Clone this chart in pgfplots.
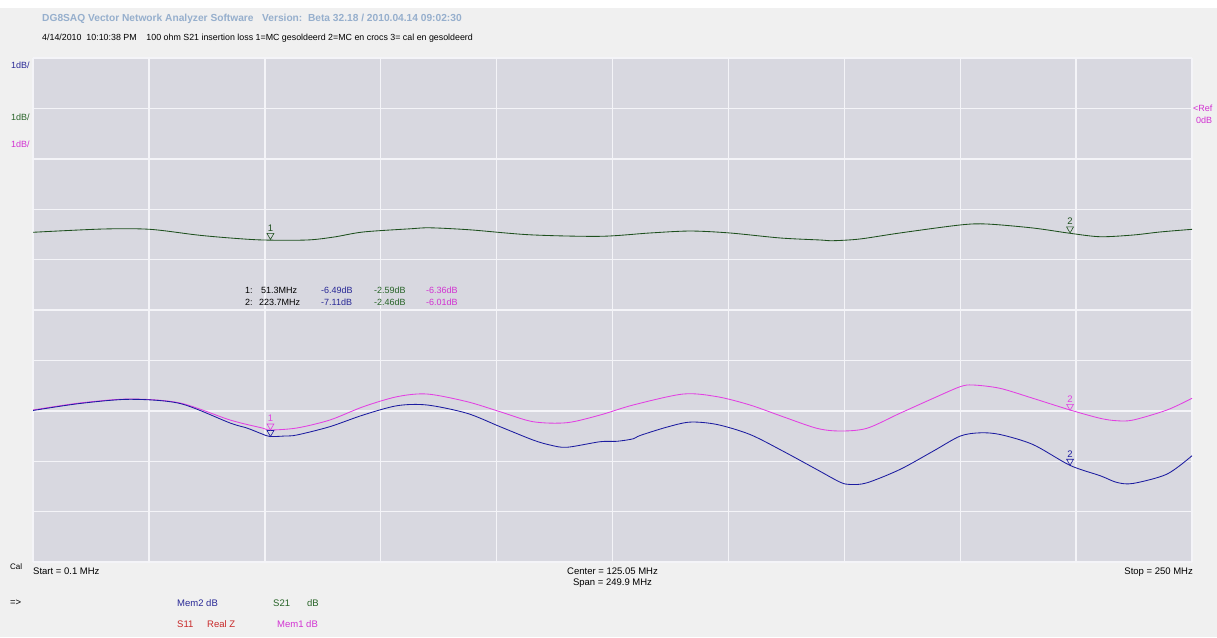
\documentclass[border=0pt]{standalone}
\usepackage{pgfplots}
\pgfplotsset{compat=1.18}
\usepackage{fontspec}
\setmainfont{Liberation Sans}
\definecolor{winbg}{RGB}{240,240,240}
\definecolor{plotbg}{RGB}{216,216,224}
\definecolor{gridc}{RGB}{244,244,248}
\definecolor{trblue}{RGB}{28,28,160}
\definecolor{trpink}{RGB}{226,64,226}
\definecolor{trgreen}{RGB}{30,80,30}
\definecolor{txtblue}{RGB}{40,40,150}
\definecolor{txtgreen}{RGB}{40,100,40}
\definecolor{txtpink}{RGB}{210,50,210}
\definecolor{txtred}{RGB}{200,40,40}
\definecolor{titleblue}{RGB}{150,175,205}
\pgfplotsset{
  vnamark/.style={only marks, mark=triangle, mark size=4pt,
    mark options={#1, fill=none, line width=0.6pt, yshift=4pt, rotate=180}},
  vnanum/.style={draw=none, mark=none, point meta=explicit symbolic, nodes near coords,
    nodes near coords style={anchor=south, yshift=8pt, inner sep=0pt, text=#1,
      font=\fontsize{9.5}{9.5}\selectfont}}
}
\begin{document}
\begin{tikzpicture}
\path[use as bounding box, fill=winbg] (0,0) rectangle (1217pt,-637pt);
\fill[white] (0,0) rectangle (1217pt,-8pt);
\begin{axis}[at={(33pt,-58pt)}, anchor=north west, width=1159pt, height=504pt, scale only axis,
  xmin=0.1, xmax=250, ymin=-9, ymax=1,
  xtick={0.1,25.09,50.08,75.07,100.06,125.05,150.04,175.03,200.02,225.01,250},
  ytick={-9,-8,...,1},
  grid=major, major grid style={gridc, line width=1.4pt},
  xticklabels={}, yticklabels={}, major tick length=0pt,
  axis line style={draw=none},
  axis background/.style={fill=plotbg},
  clip=true]
% S21 (green)
\addplot[trgreen, line width=0.85pt, smooth, mark=none] coordinates {
(0.1,-2.458) (15.2,-2.393) (25.3,-2.399) (35.5,-2.512) (42.6,-2.571) (49.7,-2.611)
(59.2,-2.611) (65.0,-2.552) (71.3,-2.452) (81.4,-2.389) (85.7,-2.369) (94.3,-2.409)
(107.3,-2.508) (122.4,-2.538) (133.1,-2.472) (141.8,-2.433) (150.4,-2.472) (161.2,-2.571)
(169.8,-2.611) (172.6,-2.625) (178.4,-2.591) (187.0,-2.472) (200.0,-2.313) (205.8,-2.294)
(215.7,-2.373) (223.7,-2.478) (230.2,-2.546) (237.3,-2.512) (243.1,-2.452) (250,-2.399)};
% Mem1 (pink)
\addplot[trpink, line width=0.85pt, smooth, mark=none] coordinates {
(0.1,-5.984) (10.2,-5.845) (21.0,-5.766) (31.8,-5.845) (42.6,-6.183) (49.5,-6.341)
(51.2,-6.381) (57.0,-6.341) (64.1,-6.183) (71.3,-5.919) (78.6,-5.720) (85.1,-5.667)
(93.7,-5.819) (100.8,-6.018) (107.9,-6.216) (115.2,-6.236) (122.4,-6.083) (129.5,-5.885)
(140.3,-5.667) (147.6,-5.720) (154.7,-5.885) (161.8,-6.117) (169.1,-6.347) (174.1,-6.401)
(179.9,-6.347) (187.0,-6.050) (194.2,-5.752) (200.0,-5.522) (202.8,-5.488) (208.6,-5.554)
(215.7,-5.752) (223.7,-5.984) (230.2,-6.149) (233.8,-6.197) (237.3,-6.183) (244.6,-5.984)
(250,-5.752)};
% Mem2 (blue)
\addplot[trblue, line width=0.85pt, smooth, mark=none] coordinates {
(0.1,-5.994) (10.2,-5.855) (21.0,-5.772) (31.8,-5.855) (42.6,-6.242) (46.2,-6.341)
(49.5,-6.460) (51.2,-6.510) (54.4,-6.500) (57.0,-6.480) (64.1,-6.315) (71.3,-6.083)
(78.6,-5.899) (85.1,-5.885) (93.7,-6.050) (100.8,-6.315) (107.9,-6.579) (111.6,-6.679)
(115.2,-6.724) (122.4,-6.613) (126.0,-6.605) (129.5,-6.556) (131.0,-6.490) (136.8,-6.323)
(141.8,-6.224) (147.6,-6.272) (154.7,-6.470) (161.8,-6.800) (169.1,-7.165) (174.1,-7.415)
(176.3,-7.462) (179.9,-7.429) (187.0,-7.165) (194.2,-6.800) (200.0,-6.502) (204.3,-6.437)
(208.6,-6.470) (215.7,-6.669) (223.7,-7.083) (230.2,-7.288) (233.8,-7.421) (237.3,-7.441)
(244.6,-7.256) (250,-6.891)};
% markers: triangles
\addplot[vnamark=trblue] coordinates {(51.3,-6.51) (223.7,-7.08)};
\addplot[vnamark=trpink] coordinates {(51.3,-6.38) (223.7,-5.99)};
\addplot[vnamark=trgreen] coordinates {(51.3,-2.60) (223.7,-2.47)};
% markers: numbers
\addplot[vnanum=trblue] coordinates {(223.7,-7.08)[2]};
\addplot[vnanum=trpink] coordinates {(51.3,-6.38)[1] (223.7,-5.99)[2]};
\addplot[vnanum=trgreen] coordinates {(51.3,-2.60)[1] (223.7,-2.47)[2]};
\end{axis}
% header
\node[anchor=west, inner sep=0, text=titleblue, font=\bfseries\fontsize{10.2}{12}\selectfont] at (42pt,-19pt)
  {DG8SAQ Vector Network Analyzer Software\ \ \ Version:\ \ Beta 32.18 / 2010.04.14 09:02:30};
\node[anchor=west, inner sep=0, font=\fontsize{8.85}{10}\selectfont] at (42pt,-38pt)
  {4/14/2010\ \ 10:10:38 PM\ \ \ \ 100 ohm S21 insertion loss 1=MC gesoldeerd 2=MC en crocs 3= cal en gesoldeerd};
% scale labels
\begin{scope}[every node/.style={anchor=west, inner sep=0, font=\fontsize{9}{10}\selectfont}]
\node[text=txtblue] at (11pt,-65pt) {1dB/};
\node[text=txtgreen] at (11pt,-117pt) {1dB/};
\node[text=txtpink] at (11pt,-144pt) {1dB/};
\node[text=txtpink] at (1193pt,-108pt) {<Ref};
\node[text=txtpink] at (1196pt,-120pt) {0dB};
\end{scope}
% readout
\begin{scope}[every node/.style={anchor=west, inner sep=0, font=\fontsize{9}{10}\selectfont}]
\node at (245pt,-290pt) {1:};
\node at (261pt,-290pt) {51.3MHz};
\node[text=txtblue] at (321pt,-290pt) {-6.49dB};
\node[text=txtgreen] at (374pt,-290pt) {-2.59dB};
\node[text=txtpink] at (426pt,-290pt) {-6.36dB};
\node at (245pt,-302pt) {2:};
\node at (259pt,-302pt) {223.7MHz};
\node[text=txtblue] at (321pt,-302pt) {-7.11dB};
\node[text=txtgreen] at (374pt,-302pt) {-2.46dB};
\node[text=txtpink] at (426pt,-302pt) {-6.01dB};
\end{scope}
% footer
\begin{scope}[every node/.style={inner sep=0, font=\fontsize{9.5}{11}\selectfont}]
\node[anchor=west, font=\fontsize{8}{9}\selectfont] at (10pt,-567pt) {Cal};
\node[anchor=west] at (33pt,-571pt) {Start = 0.1 MHz};
\node at (612.5pt,-571pt) {Center = 125.05 MHz};
\node at (612.5pt,-583pt) {Span = 249.9 MHz};
\node[anchor=east] at (1193pt,-572pt) {Stop = 250 MHz};
\node[anchor=west] at (10pt,-603pt) {=>};
\node[anchor=west, text=txtblue] at (177pt,-603pt) {Mem2\ dB};
\node[anchor=west, text=txtgreen] at (273pt,-603pt) {S21};
\node[anchor=west, text=txtgreen] at (307pt,-603pt) {dB};
\node[anchor=west, text=txtred] at (177pt,-624pt) {S11};
\node[anchor=west, text=txtred] at (207pt,-624pt) {Real Z};
\node[anchor=west, text=txtpink] at (277pt,-624pt) {Mem1\ dB};
\end{scope}
\end{tikzpicture}
\end{document}
